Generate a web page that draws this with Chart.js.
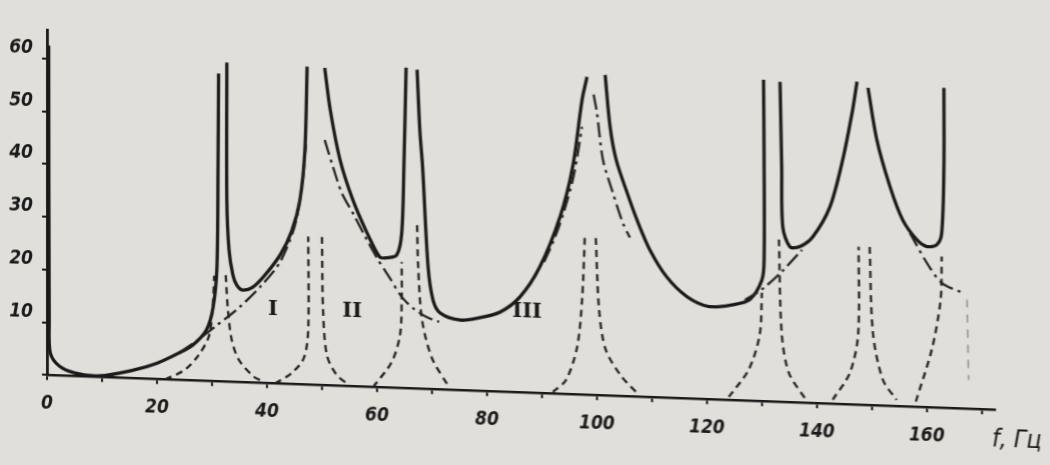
<!DOCTYPE html>
<html>
<head>
<meta charset="utf-8">
<script src="https://cdn.jsdelivr.net/npm/chart.js@4.4.0/dist/chart.umd.min.js"></script>
<style>
  html, body { margin: 0; padding: 0; background: #e1dfda; overflow: hidden; }
  #wrap { width: 1050px; height: 465px; transform: skewY(2.1deg); transform-origin: 0 0; }
</style>
</head>
<body>
<div id="wrap"><canvas id="resChart" width="1050" height="465"></canvas></div>
<script>
// main response curve (thick solid), segments split by null
const mainCurve = [
  [0.3, 62.5], [0.4, 10], [0.6, 4.2], [2.2, 1.8], [5, 0.6], [9.5, 0.2], [15.6, 1.5], [20, 3.0],
  [24, 5.1], [26.5, 6.7], [29, 9.7], [30.2, 14], [30.9, 21.6], [31.1, 40.6], [31.2, 58.4],
  null,
  [32.7, 60.5], [32.7, 34.5], [33.1, 25], [33.8, 20.3], [34.5, 18.4], [35.5, 17.5], [37.3, 18],
  [39.5, 20.3], [42.4, 24.4], [44.5, 29], [46, 35], [46.9, 44.5], [47.3, 60.3],
  null,
  [50.5, 60.2], [51.5, 52.3], [53.3, 42.8], [55.6, 35.4], [58.2, 29.2], [60.5, 24.7], [61.8, 24.6],
  [63.6, 25.2], [64.5, 29.4], [64.9, 42], [65.3, 60.8],
  null,
  [67.3, 60.5], [67.8, 49], [68.3, 42.1], [69.3, 23.2], [70.2, 16.9], [71.5, 14.5], [75.1, 13.3],
  [78.7, 13.9], [82.4, 15.1], [86, 18.1], [89.6, 23.9], [93.3, 33.6], [95.6, 43.2], [97.3, 55.9], [98.2, 60.3],
  null,
  [101.5, 60.8], [102.4, 51], [103.5, 44.8], [105.5, 38.6], [107.3, 33.5], [109.6, 28], [112.7, 22.9],
  [116.4, 19.3], [120.4, 17.6], [124.7, 18.1], [127.8, 19.2], [130, 23], [130.4, 26.8], [130.4, 45.8], [130.3, 61],
  null,
  [133.3, 60.7], [133.6, 44.6], [133.8, 33.2], [135.1, 29.5], [136.9, 29.6], [139.3, 31.6], [142.4, 37.4],
  [144.7, 46.4], [146.5, 55.9], [147.3, 61.3],
  null,
  [149.3, 60.2], [150.9, 50.4], [153.3, 41.6], [155.6, 35.4], [158.2, 31.7], [160, 30.5], [161.8, 30.9],
  [162.7, 33.2], [163.1, 45.7], [163.1, 60.7]
];

// dash-dot envelopes I, II, III and the continuations near 130 and 160 Hz
const envelopeCurves = [
  [24.2, 5.3], [26.9, 7.3], [30.5, 10.3], [35.1, 14.3], [39.1, 18.6], [42.4, 23.1], [45.1, 30.2], [46.5, 38.8], [47.1, 45.5],
  null,
  [50.5, 46.5], [52, 41.5], [53.6, 36.6], [55.8, 32.5], [58, 28.2], [60, 24.5], [62.2, 21], [64.5, 17.3],
  [66.7, 15.1], [68.9, 13.7], [71.3, 12.8],
  null,
  [90.4, 24.9], [92.2, 29.2], [94, 34.6], [95.8, 41.6], [97.3, 50.8],
  null,
  [99.4, 57], [100, 53.6], [101.1, 44.7], [102.9, 38.5], [104.7, 32.9], [106, 30.1],
  null,
  [126.9, 19.1], [130, 21.2], [133.6, 24.7], [137.3, 29],
  null,
  [156.9, 33], [160, 27.4], [162.7, 23.7], [166.4, 22]
];

// single-mode resonance peaks (short dashes)
const modePeaks = [
  [21.5, 0], [25, 1.9], [27.6, 4.9], [29.5, 8.7], [30.2, 15.4], [30.4, 20], null,
  [32.5, 20.2], [32.9, 13.6], [33.6, 7.9], [34.9, 4.2], [37.6, 1.1], [39, 0.4], null,
  [41.5, 0], [44.5, 2.1], [46.7, 5], [47.5, 10.4], [47.5, 28.1], null,
  [50, 28.1], [50.2, 14.2], [50.9, 5.7], [52.7, 2], [55, 0.2], null,
  [59.3, 0], [62.7, 4.9], [64.2, 10.1], [64.5, 16.7], [64.5, 23.9], null,
  [67.3, 31], [67.5, 23.1], [68.2, 13.1], [70, 5.9], [73.1, 0.5], null,
  [92, 0.3], [94.4, 2.7], [96.4, 9], [97.3, 18], [97.8, 30], null,
  [99.8, 29.8], [100.4, 16.2], [101.6, 8.7], [104.5, 3.7], [107.6, 0.4], null,
  [124, 0.6], [127.6, 5.9], [129.6, 12.6], [130, 20.6], null,
  [133.1, 30.8], [133.6, 13.1], [134.9, 5.6], [138, 0.6], null,
  [142.9, 0.8], [146, 6], [147.5, 13.3], [147.6, 30], null,
  [149.6, 30], [150.2, 13.7], [152, 4.9], [154.5, 1.2], null,
  [158, 1], [160.9, 11], [162.5, 20.5], [162.7, 28.7]
];
const faintPeak = [[167.3, 20.7], [167.6, 5.5]];

const branchLabels = ['I', 'II', 'III'];
const labelF = [41.1, 55.5, 87.3];
const labelV = [13.9, 14.1, 15.3];
const axisUnit = 'f, Гц';

function toPoints(arr) {
  let lastX = 0;
  return arr.map(p => {
    if (!p) return { x: lastX, y: null };
    lastX = p[0];
    return { x: p[0], y: p[1] };
  });
}

const ink = '#1a1a1a';
const tickFont = { family: '"DejaVu Sans Condensed", "DejaVu Sans", sans-serif', size: 19, style: 'italic', weight: 'bold' };

const notePlugin = {
  id: 'notes',
  afterDatasetsDraw(chart) {
    const { ctx, scales: { x, y }, chartArea } = chart;
    ctx.save();
    ctx.fillStyle = ink;
    ctx.textAlign = 'center';
    ctx.textBaseline = 'middle';
    ctx.font = 'bold 21px "DejaVu Serif", serif';
    branchLabels.forEach((t, i) => {
      ctx.fillText(t, x.getPixelForValue(labelF[i]), y.getPixelForValue(labelV[i]));
    });
    ctx.textAlign = 'left';
    ctx.font = 'italic 25px "DejaVu Sans Condensed", "DejaVu Sans", sans-serif';
    ctx.fillText(axisUnit, chartArea.right - 3, chartArea.bottom + 30);
    ctx.restore();
  }
};

const ctx = document.getElementById('resChart').getContext('2d');
new Chart(ctx, {
  type: 'line',
  data: {
    datasets: [
      {
        data: toPoints(faintPeak),
        borderColor: '#8a8883', borderWidth: 1.4, borderDash: [8, 7],
        pointRadius: 0, tension: 0.3, spanGaps: false
      },
      {
        data: toPoints(modePeaks),
        borderColor: '#222', borderWidth: 2.3, borderDash: [7, 5],
        pointRadius: 0, tension: 0.3, spanGaps: false
      },
      {
        data: toPoints(envelopeCurves),
        borderColor: '#222', borderWidth: 2.3, borderDash: [15, 5, 3, 5],
        pointRadius: 0, tension: 0.3, spanGaps: false
      },
      {
        data: toPoints(mainCurve),
        borderColor: ink, borderWidth: 3.3,
        pointRadius: 0, tension: 0.3, spanGaps: false
      }
    ]
  },
  options: {
    responsive: false,
    animation: false,
    layout: { padding: { top: 28, right: 55, left: 0, bottom: 0 } },
    plugins: { legend: { display: false }, tooltip: { enabled: false } },
    scales: {
      x: {
        type: 'linear',
        min: 0,
        max: 172.4,
        afterFit: (scale) => { scale.height = 91.7; },
        border: { color: ink, width: 2.5 },
        grid: { drawOnChartArea: false, tickLength: 5, color: ink, lineWidth: 2 },
        ticks: {
          stepSize: 10,
          includeBounds: false,
          autoSkip: false,
          maxRotation: 0,
          padding: 12,
          color: ink,
          font: tickFont,
          callback: (v) => (v % 20 === 0 ? v : '')
        }
      },
      y: {
        min: 0,
        max: 65.5,
        afterFit: (scale) => { scale.width = 47; },
        border: { color: ink, width: 2.8 },
        grid: { drawOnChartArea: false, tickLength: 5, color: ink, lineWidth: 2 },
        ticks: {
          stepSize: 10,
          includeBounds: false,
          padding: 9,
          labelOffset: -10,
          color: ink,
          font: tickFont,
          callback: (v) => (v === 0 ? '' : v)
        }
      }
    }
  },
  plugins: [notePlugin]
});
</script>
</body>
</html>
